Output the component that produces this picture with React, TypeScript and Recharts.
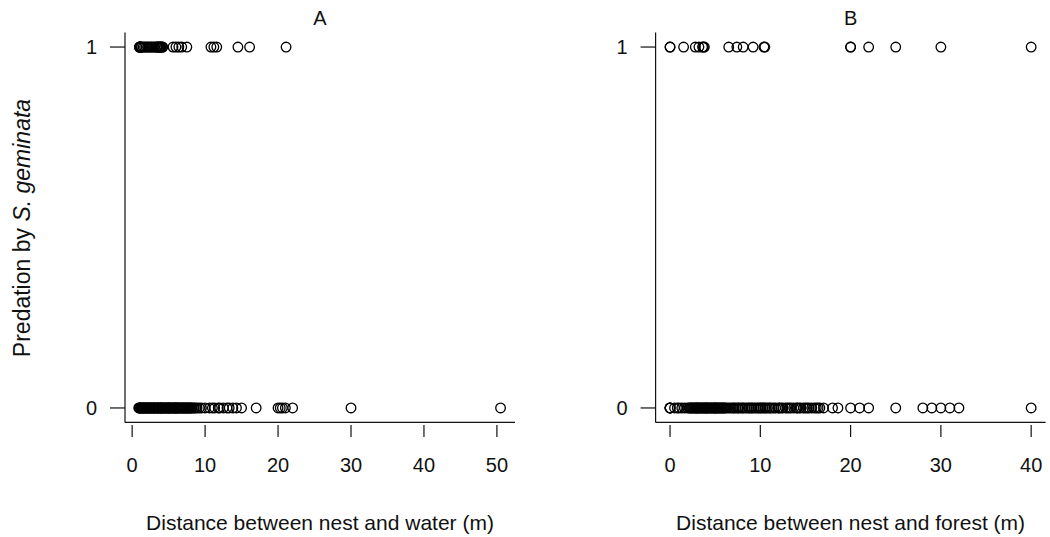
import { ScatterChart, Scatter, XAxis, YAxis } from "recharts";

// distance to water (m), panel A
const waterPredated = [
  1.0, 1.0, 1.05, 1.1, 1.15, 1.2, 1.3, 1.5, 1.7, 1.9, 2.1, 2.3, 2.5, 2.7, 2.9,
  3.1, 3.3, 3.4, 3.5, 3.6, 3.7, 3.8, 3.9, 4.0, 4.1, 4.2, 5.6, 6.0, 6.4, 6.8,
  7.5, 10.8, 11.2, 11.6, 14.5, 16.1, 21.1,
];
const waterSafe = [
  0.9, 1.0, 1.0, 1.1, 1.2, 1.2, 1.3, 1.4, 1.5, 1.5, 1.6, 1.7, 1.8, 1.9, 2.0,
  2.0, 2.1, 2.2, 2.3, 2.4, 2.5, 2.5, 2.6, 2.7, 2.8, 2.9, 3.0, 3.0, 3.1, 3.2,
  3.3, 3.4, 3.5, 3.5, 3.6, 3.7, 3.8, 3.9, 4.0, 4.0, 4.1, 4.2, 4.3, 4.4, 4.5,
  4.6, 4.7, 4.8, 4.9, 5.0, 5.0, 5.1, 5.2, 5.3, 5.4, 5.5, 5.6, 5.7, 5.8, 5.9,
  6.0, 6.0, 6.1, 6.2, 6.3, 6.4, 6.5, 6.6, 6.7, 6.8, 6.9, 7.0, 7.1, 7.2, 7.3,
  7.4, 7.5, 7.6, 7.7, 7.8, 7.9, 8.0, 8.1, 8.2, 8.4, 8.5, 8.7, 8.9, 9.2, 9.5,
  10.0, 10.6, 11.0, 11.3, 11.8, 12.0, 12.5, 13.0, 13.3, 13.8, 14.3, 15.0,
  17.0, 20.0, 20.3, 20.6, 21.0, 22.0, 30.0, 50.5,
];

// distance to forest (m), panel B
const forestPredated = [
  0, 0, 1.5, 2.8, 3.2, 3.6, 3.7, 3.8, 6.5, 7.4, 8.1, 9.2, 10.4, 10.5, 20, 20,
  22, 25, 30, 40,
];
const forestSafe = [
  0, 0, 0, 0, 0.5, 0.8, 1.0, 1.3, 1.6, 1.9, 2.1, 2.2, 2.3, 2.4, 2.5, 2.6, 2.7,
  2.8, 2.9, 3.0, 3.0, 3.1, 3.2, 3.3, 3.4, 3.5, 3.6, 3.7, 3.8, 3.9, 4.0, 4.0,
  4.1, 4.2, 4.3, 4.4, 4.5, 4.6, 4.7, 4.8, 4.9, 5.0, 5.0, 5.1, 5.2, 5.3, 5.4,
  5.5, 5.6, 5.7, 5.8, 5.9, 6.0, 6.1, 6.2, 6.4, 6.6, 6.8, 7.0, 7.1, 7.3, 7.5,
  7.6, 7.8, 8.0, 8.1, 8.3, 8.5, 8.7, 8.8, 9.0, 9.1, 9.3, 9.5, 9.7, 9.8, 10.0,
  10.1, 10.3, 10.5, 10.6, 10.8, 11.0, 11.1, 11.3, 11.5, 11.7, 12.0, 12.1,
  12.3, 12.5, 12.8, 13.0, 13.2, 13.4, 13.7, 14.0, 14.1, 14.3, 14.5, 14.8,
  15.0, 15.2, 15.4, 15.7, 16.0, 16.2, 16.4, 16.6, 17.0, 18.0, 18.6, 20.0,
  21.0, 22.0, 25.0, 28.0, 29.0, 30.0, 31.0, 32.0, 40.0,
];

const waterTicks = [0, 10, 20, 30, 40, 50];
const forestTicks = [0, 10, 20, 30, 40];
const yTicks = [0, 1];

const FONT = "'Liberation Sans', Arial, sans-serif";
const INK = "#111";

const toPoints = (xs: number[], y: number) => xs.map((x) => ({ x, y }));

function Ring(props: any) {
  const { cx, cy } = props;
  if (cx == null || cy == null) return null;
  return <circle cx={cx} cy={cy} r={4.8} fill="none" stroke="#000" strokeWidth={1.3} />;
}

function XTick({ x, y, payload }: any) {
  return (
    <g>
      <line x1={x} x2={x} y1={y + 2.5} y2={y + 14.5} stroke={INK} strokeWidth={1.2} />
      <text x={x} y={y + 43} textAnchor="middle" dominantBaseline="central" fill={INK} fontSize={20} fontFamily={FONT}>
        {payload.value}
      </text>
    </g>
  );
}

function YTick({ x, y, payload }: any) {
  return (
    <g>
      <line x1={x - 15} x2={x} y1={y} y2={y} stroke={INK} strokeWidth={1.2} />
      <text x={x - 28} y={y} textAnchor="end" dominantBaseline="central" fill={INK} fontSize={20} fontFamily={FONT}>
        {payload.value}
      </text>
    </g>
  );
}

type PanelProps = {
  title: string;
  xTitle: string;
  predated: number[];
  safe: number[];
  domain: [number, number];
  ticks: number[];
  yAxisWidth: number;
  right: number;
  showYTitle?: boolean;
};

function Panel({ title, xTitle, predated, safe, domain, ticks, yAxisWidth, right, showYTitle }: PanelProps) {
  const plotCenter = yAxisWidth + (525 - yAxisWidth - right) / 2;
  return (
    <ScatterChart width={525} height={537} margin={{ top: 32.6, right, bottom: 0, left: 0 }}>
      <XAxis
        type="number"
        dataKey="x"
        domain={domain}
        ticks={ticks}
        allowDataOverflow
        height={114.6}
        tickSize={0}
        tickMargin={0}
        tickLine={false}
        axisLine={{ stroke: INK, strokeWidth: 1.2 }}
        tick={<XTick />}
      />
      <YAxis
        type="number"
        dataKey="y"
        domain={[-0.04, 1.04]}
        ticks={yTicks}
        allowDataOverflow
        width={yAxisWidth}
        tickSize={0}
        tickMargin={0}
        tickLine={false}
        axisLine={{ stroke: INK, strokeWidth: 1.2 }}
        tick={<YTick />}
      />
      <Scatter data={toPoints(safe, 0)} shape={<Ring />} isAnimationActive={false} />
      <Scatter data={toPoints(predated, 1)} shape={<Ring />} isAnimationActive={false} />
      <text x={plotCenter} y={18} textAnchor="middle" dominantBaseline="central" fill={INK} fontSize={20} fontFamily={FONT}>
        {title}
      </text>
      <text x={plotCenter} y={522} textAnchor="middle" dominantBaseline="central" fill={INK} fontSize={21} fontFamily={FONT}>
        {xTitle}
      </text>
      {showYTitle && (
        <text
          x={22}
          y={228}
          transform="rotate(-90, 22, 228)"
          textAnchor="middle"
          dominantBaseline="central"
          fill={INK}
          fontSize={23}
          fontFamily={FONT}
        >
          Predation by <tspan fontStyle="italic">S. geminata</tspan>
        </text>
      )}
    </ScatterChart>
  );
}

export default function App() {
  return (
    <div style={{ position: "absolute", left: 0, top: 0, width: 1050, height: 537, background: "#fff" }}>
      <div style={{ position: "absolute", left: 0, top: 0 }}>
        <Panel
          title="A"
          xTitle="Distance between nest and water (m)"
          predated={waterPredated}
          safe={waterSafe}
          domain={[-0.98, 52.48]}
          ticks={waterTicks}
          yAxisWidth={125}
          right={10}
          showYTitle
        />
      </div>
      <div style={{ position: "absolute", left: 525, top: 0 }}>
        <Panel
          title="B"
          xTitle="Distance between nest and forest (m)"
          predated={forestPredated}
          safe={forestSafe}
          domain={[-1.6, 41.6]}
          ticks={forestTicks}
          yAxisWidth={130.6}
          right={4.4}
        />
      </div>
    </div>
  );
}
